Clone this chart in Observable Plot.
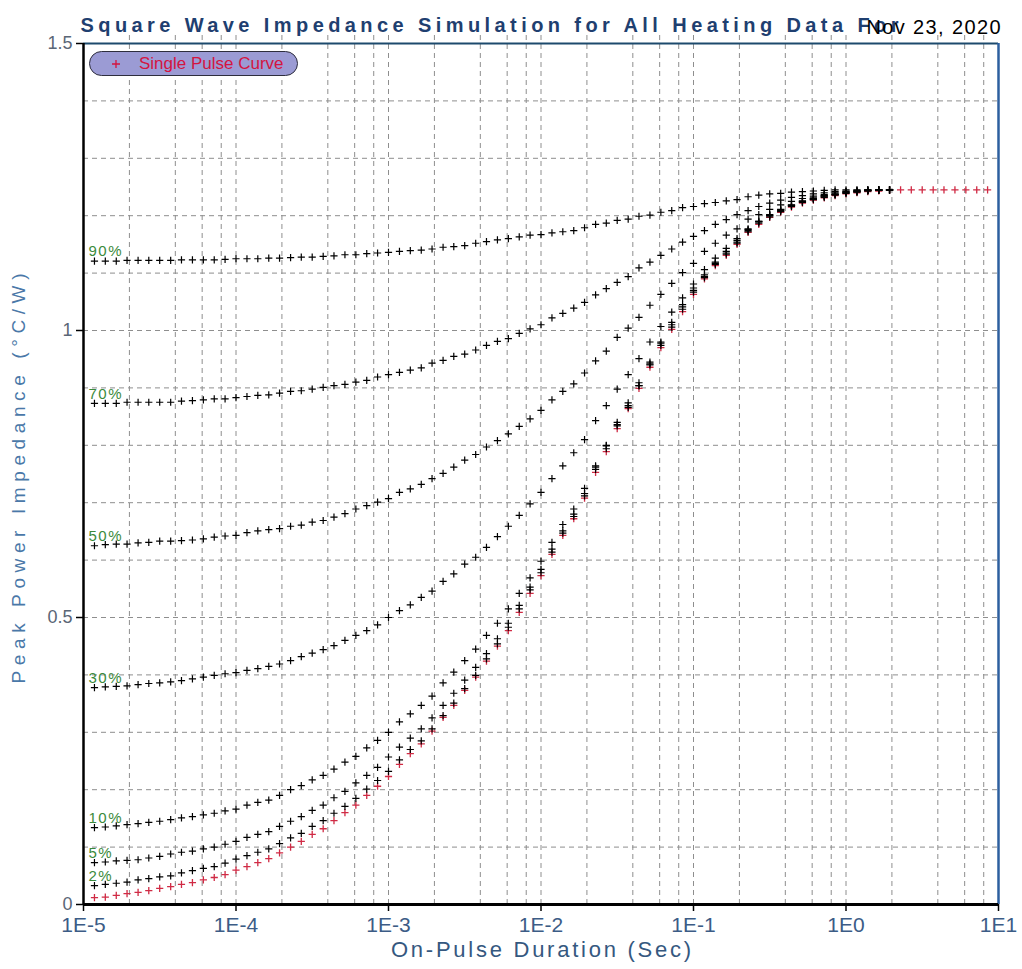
<!DOCTYPE html>
<html><head><meta charset="utf-8">
<script src="https://cdn.jsdelivr.net/npm/d3@7"></script>
<script src="https://cdn.jsdelivr.net/npm/@observablehq/plot@0.6"></script>
<style>
body{margin:0;background:#fff;}
#wrap{position:relative;width:1022px;height:969px;overflow:hidden;}
#legend{position:absolute;left:89px;top:51px;width:207px;height:23px;border:1.5px solid #2e2e3e;border-radius:13px;background:#9b9bd4;font-family:"Liberation Sans",Arial,sans-serif;font-size:17px;color:#d4143f;line-height:23px;}
#legend svg{position:absolute;left:22px;top:8px;}
#legend span{position:absolute;left:49px;top:0;}
</style></head><body>
<div id="wrap"><div id="legend"><svg width="8" height="8"><path d="M0,4H8M4,0V8" stroke="#d4143f" stroke-width="1.3"/></svg><span>Single Pulse Curve</span></div></div>
<script>
// On-pulse durations (s)
const durations = [
 1.18e-5,1.39e-5,1.64e-5,1.93e-5,2.28e-5,2.68e-5,3.16e-5,3.73e-5,4.39e-5,5.18e-5,6.11e-5,7.2e-5,8.48e-5,1e-4,
 1.18e-4,1.39e-4,1.64e-4,1.93e-4,2.28e-4,2.68e-4,3.16e-4,3.73e-4,4.39e-4,5.18e-4,6.11e-4,7.2e-4,8.48e-4,1e-3,
 1.18e-3,1.39e-3,1.64e-3,1.93e-3,2.28e-3,2.68e-3,3.16e-3,3.73e-3,4.39e-3,5.18e-3,6.11e-3,7.2e-3,8.48e-3,1e-2,
 1.18e-2,1.39e-2,1.64e-2,1.93e-2,2.28e-2,2.68e-2,3.16e-2,3.73e-2,4.39e-2,5.18e-2,6.11e-2,7.2e-2,8.48e-2,1e-1,
 1.18e-1,1.39e-1,1.64e-1,1.93e-1,2.28e-1,2.68e-1,3.16e-1,3.73e-1,4.39e-1,5.18e-1,6.11e-1,7.2e-1,8.48e-1,1,
 1.18,1.39,1.64,1.93,2.28,2.68,3.16,3.73,4.39,5.18,6.11,7.2,8.48
];
// Single pulse curve
const singlePulse = [
 .012,.013,.016,.019,.021,.024,.028,.031,.035,.038,.043,.047,.052,.060,
 .066,.073,.080,.090,.100,.110,.122,.132,.146,.160,.173,.190,.206,.223,
 .244,.263,.280,.302,.326,.347,.373,.396,.424,.450,.477,.509,.542,.573,
 .610,.643,.672,.708,.753,.789,.829,.864,.899,.936,.970,1.002,1.033,1.063,
 1.090,1.113,1.131,1.150,1.171,1.185,1.197,1.206,1.215,1.222,1.227,1.231,1.235,1.238,
 1.240,1.242,1.243,1.244,1.245,1.245,1.245,1.245,1.245,1.245,1.245,1.245,1.245
];
const duty2 = [
 .033,.035,.037,.039,.043,.045,.048,.050,.055,.059,.063,.066,.072,.079,
 .085,.091,.097,.106,.116,.124,.136,.146,.159,.171,.185,.201,.216,.232,
 .252,.270,.285,.306,.329,.351,.376,.399,.428,.454,.483,.515,.548,.578,
 .614,.647,.676,.712,.758,.794,.834,.869,.904,.940,.974,1.006,1.037,1.067,
 1.092,1.115,1.133,1.152,1.172,1.187,1.198,1.207,1.216,1.223,1.228,1.232,1.236,1.239,
 1.241,1.243,1.244,1.245
];
const duty5 = [
 .073,.074,.076,.077,.078,.081,.084,.088,.091,.093,.097,.100,.105,.110,
 .117,.122,.127,.136,.145,.153,.164,.173,.186,.197,.212,.225,.239,.257,
 .274,.290,.306,.325,.347,.368,.391,.413,.437,.463,.490,.521,.553,.584,
 .619,.651,.680,.716,.762,.800,.840,.874,.909,.945,.978,1.010,1.041,1.070,
 1.094,1.117,1.135,1.154,1.174,1.189,1.200,1.209,1.218,1.224,1.229,1.234,1.237,1.240,
 1.242,1.244,1.245,1.245
];
const duty10 = [
 .134,.135,.137,.139,.141,.143,.145,.148,.151,.153,.156,.159,.163,.166,
 .173,.178,.182,.190,.200,.207,.217,.225,.236,.248,.258,.273,.286,.300,
 .318,.332,.347,.363,.386,.405,.425,.445,.469,.490,.515,.542,.569,.598,
 .631,.662,.689,.725,.764,.799,.836,.866,.904,.942,.980,1.014,1.045,1.074,
 1.097,1.119,1.138,1.157,1.176,1.190,1.202,1.211,1.219,1.226,1.231,1.235,1.238,1.241,
 1.243,1.244,1.245,1.245
];
const duty30 = [
 .378,.379,.380,.381,.383,.385,.386,.388,.390,.393,.396,.399,.402,.404,
 .408,.411,.415,.419,.425,.432,.438,.444,.451,.460,.469,.477,.487,.500,
 .512,.522,.535,.546,.563,.576,.593,.605,.622,.641,.659,.678,.698,.718,
 .742,.764,.787,.810,.843,.869,.898,.923,.951,.980,1.007,1.032,1.057,1.081,
 1.106,1.126,1.143,1.160,1.177,1.190,1.201,1.210,1.218,1.225,1.230,1.234,1.237,1.240,
 1.242,1.243,1.244,1.245
];
const duty50 = [
 .625,.627,.628,.628,.630,.631,.633,.633,.634,.635,.637,.640,.642,.643,
 .648,.651,.653,.655,.659,.661,.666,.669,.675,.681,.689,.695,.701,.707,
 .718,.724,.732,.742,.751,.762,.774,.784,.797,.808,.820,.833,.846,.861,
 .879,.894,.907,.926,.947,.964,.988,1.004,1.023,1.044,1.063,1.082,1.101,1.117,
 1.138,1.152,1.166,1.177,1.194,1.202,1.211,1.219,1.225,1.230,1.234,1.237,1.240,1.242,
 1.243,1.244,1.245,1.245
];
const duty70 = [
 .873,.873,.873,.875,.875,.875,.875,.875,.877,.878,.879,.881,.881,.883,
 .885,.887,.888,.891,.894,.895,.898,.901,.904,.906,.910,.913,.919,.923,
 .927,.931,.935,.943,.948,.955,.959,.966,.974,.981,.986,.995,1.003,1.010,
 1.022,1.030,1.039,1.049,1.062,1.073,1.084,1.094,1.109,1.119,1.131,1.142,1.154,1.164,
 1.174,1.185,1.193,1.202,1.209,1.216,1.222,1.227,1.232,1.235,1.238,1.240,1.242,1.243,
 1.244,1.245,1.245,1.245
];
const duty90 = [
 1.121,1.121,1.121,1.122,1.122,1.122,1.122,1.122,1.123,1.123,1.123,1.123,1.124,1.125,
 1.125,1.125,1.126,1.126,1.127,1.128,1.128,1.129,1.130,1.132,1.132,1.134,1.135,1.136,
 1.138,1.139,1.140,1.142,1.145,1.146,1.148,1.152,1.155,1.158,1.160,1.163,1.166,1.167,
 1.170,1.172,1.174,1.179,1.185,1.187,1.192,1.194,1.199,1.201,1.206,1.209,1.214,1.216,
 1.221,1.223,1.226,1.228,1.233,1.236,1.238,1.239,1.241,1.242,1.243,1.244,1.245,1.245,
 1.245,1.245,1.245,1.245
];
const dutyNames = ["2%","5%","10%","30%","50%","70%","90%"];
const dutySeries = [duty2, duty5, duty10, duty30, duty50, duty70, duty90];

const xTicks = [1e-5,1e-4,1e-3,1e-2,1e-1,1,10];
const xTickLabels = ["1E-5","1E-4","1E-3","1E-2","1E-1","1E0","1E1"];
const yTicks = [0,0.5,1,1.5];
const yTickLabels = ["0","0.5","1","1.5"];
const xGrid = [2e-5,4e-5,6e-5,8e-5,1e-4,2e-4,4e-4,6e-4,8e-4,1e-3,2e-3,4e-3,6e-3,8e-3,1e-2,
  2e-2,4e-2,6e-2,8e-2,1e-1,2e-1,4e-1,6e-1,8e-1,1,2,4,6,8];
const yGrid = [0.1,0.2,0.3,0.4,0.5,0.6,0.7,0.8,0.9,1.0,1.1,1.2,1.3,1.4];

const titleText = "Square Wave Impedance Simulation for All Heating Data For";
const dateText = "Nov 23, 2020";
const xTitle = "On-Pulse Duration (Sec)";
const yTitle = "Peak Power Impedance (°C/W)";

// tables
const redRows = singlePulse.map((z, i) => ({t: durations[i], z}));
const blackRows = [];
dutySeries.forEach((s, k) => s.forEach((z, i) => blackRows.push({t: durations[i], z, name: dutyNames[k]})));
const labelRows = dutySeries.map((s, k) => ({t: durations[0], z: s[0], name: dutyNames[k]}));
const xLabelMap = new Map(xTicks.map((d, i) => [d, xTickLabels[i]]));
const yLabelMap = new Map(yTicks.map((d, i) => [d, yTickLabels[i]]));

const plus = {draw(ctx, size) { const r = Math.sqrt(size / Math.PI); ctx.moveTo(-r, 0); ctx.lineTo(r, 0); ctx.moveTo(0, -r); ctx.lineTo(0, r); }};
const grid = "#8e8e8e";

const chart = Plot.plot({
  width: 1022, height: 969,
  marginTop: 43, marginRight: 24, marginBottom: 65, marginLeft: 83,
  x: {type: "log", domain: [1e-5, 10]},
  y: {domain: [0, 1.5]},
  style: {fontFamily: "'Liberation Sans', Arial, sans-serif", background: "#fff", overflow: "visible"},
  marks: [
    Plot.ruleY(yGrid, {stroke: grid, strokeWidth: 1, strokeDasharray: "5,4"}),
    Plot.ruleX(xGrid, {y1: 0, y2: 1.52, stroke: grid, strokeWidth: 1, strokeDasharray: "5,4"}),
    Plot.ruleY([1.5], {stroke: "#1d4a6d", strokeWidth: 2}),
    Plot.ruleX([10], {stroke: "#2d5f9f", strokeWidth: 2.5}),
    Plot.ruleX([1e-5], {stroke: "#000", strokeWidth: 2.5}),
    Plot.ruleY([0], {stroke: "#000", strokeWidth: 3}),
    Plot.axisX({ticks: xTicks, tickFormat: d => xLabelMap.get(d), tickSize: 7, tickPadding: 6, fontSize: 21, fill: "#3c5c86", stroke: "#000", strokeWidth: 1.5, label: null}),
    Plot.axisY({ticks: yTicks, tickFormat: d => yLabelMap.get(d), tickSize: 7, tickPadding: 4, fontSize: 18, fill: "#5a6676", stroke: "#000", strokeWidth: 1.5, label: null}),
    Plot.dot(redRows, {x: "t", y: "z", symbol: plus, r: 3.6, stroke: "#d02a44", strokeWidth: 1.3, fill: "none"}),
    Plot.dot(blackRows, {x: "t", y: "z", symbol: plus, r: 3.6, stroke: "#000", strokeWidth: 1.2, fill: "none"}),
    Plot.text(labelRows, {x: "t", y: "z", text: "name", dx: -6, dy: -9.5, textAnchor: "start", fontSize: 15, fill: "#3b8a3b"}),
    Plot.text([titleText], {frameAnchor: "top-left", text: d => d, dx: -3, dy: -26, textAnchor: "start", fontSize: 20, fontWeight: "bold", fill: "#1f3f70"}),
    Plot.text([dateText], {frameAnchor: "top-right", text: d => d, dx: 2, dy: -24, textAnchor: "end", fontSize: 20, fill: "#000"}),
    Plot.text([xTitle], {frameAnchor: "bottom", text: d => d, dy: 52, fontSize: 22, fill: "#35587f"}),
    Plot.text([yTitle], {frameAnchor: "left", text: d => d, dx: -65, dy: 209.5, rotate: -90, textAnchor: "start", fontSize: 19, fill: "#4a78a8"})
  ]
});
const wrap = document.getElementById("wrap");
wrap.insertBefore(chart, wrap.firstChild);
const stretch = {};
stretch[titleText] = 818;
stretch[dateText] = 134;
stretch[xTitle] = 300;
stretch[yTitle] = 410;
d3.select(chart).selectAll("text").each(function () {
  const s = this.textContent;
  if (stretch[s] !== undefined) {
    this.setAttribute("textLength", stretch[s]);
    this.setAttribute("lengthAdjust", "spacing");
  } else if (dutyNames.includes(s)) {
    this.style.letterSpacing = "1.5px";
  }
});
</script>
</body></html>
